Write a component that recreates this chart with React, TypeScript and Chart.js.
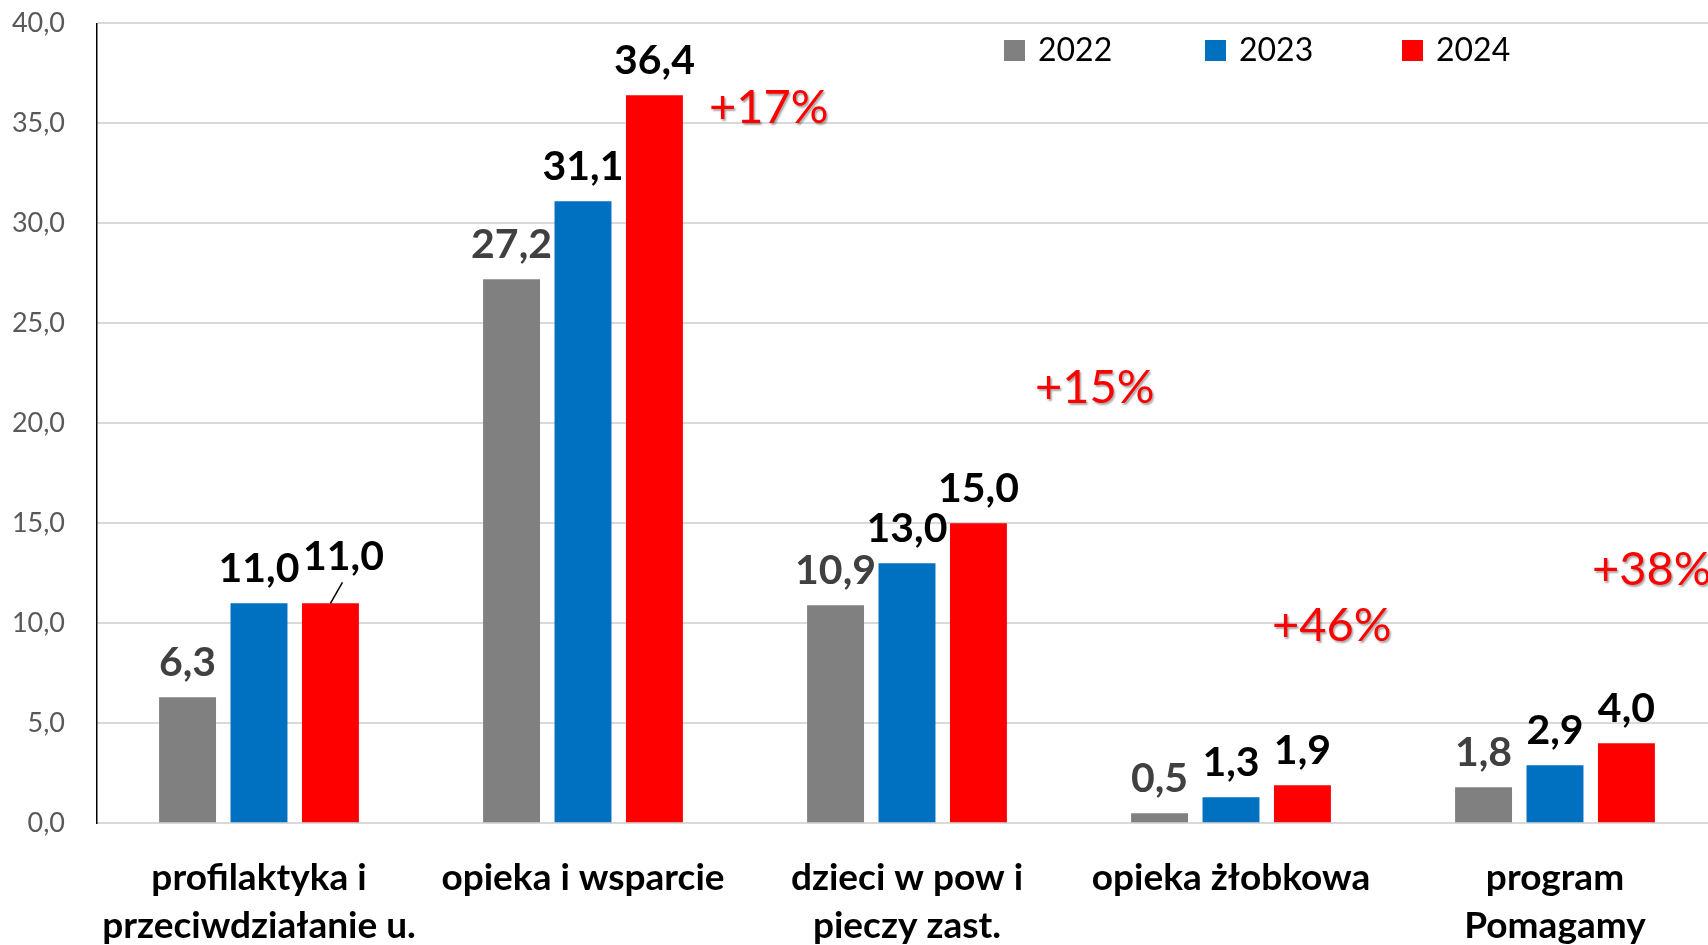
import React, { useEffect, useRef } from "react";
import { Chart, registerables } from "chart.js";

Chart.register(...registerables);

// ---- data ----
const categories: (string | string[])[] = [
  ["profilaktyka i", "przeciwdziałanie u."],
  "opieka i wsparcie",
  ["dzieci w pow i", "pieczy zast."],
  "opieka żłobkowa",
  ["program", "Pomagamy"],
];
const seriesNames = ["2022", "2023", "2024"];
const values2022 = [6.3, 27.2, 10.9, 0.5, 1.8];
const values2023 = [11.0, 31.1, 13.0, 1.3, 2.9];
const values2024 = [11.0, 36.4, 15.0, 1.9, 4.0];
const growthLabels = ["+17%", "+15%", "+46%", "+38%"];
const growthCategory = [1, 2, 3, 4];
const yMin = 0;
const yMax = 40;
const yStep = 5;

// ---- styles ----
const seriesColors = ["#808080", "#0070C0", "#FF0000"];
const labelColors = ["#404040", "#000000", "#000000"];
const FONT = "Lato, 'Open Sans', 'DejaVu Sans', sans-serif";
// growth label placement: [dx from category centre (px), value for baseline]
const growthPlacement: [number, number][] = [
  [126, 35.0],
  [128, 21.0],
  [41, 9.1],
  [37, 11.9],
];
const legendX = [1004, 1205, 1402];

const fmt = (v: number) => v.toFixed(1).replace(".", ",");

const dataLabelPlugin = {
  id: "dataLabelPlugin",
  afterDatasetsDraw(chart: any) {
    const ctx = chart.ctx;
    ctx.save();
    ctx.font = `bold 41px ${FONT}`;
    ctx.textAlign = "center";
    ctx.textBaseline = "alphabetic";
    chart.data.datasets.forEach((ds: any, di: number) => {
      const meta = chart.getDatasetMeta(di);
      meta.data.forEach((bar: any, i: number) => {
        const v = ds.data[i] as number;
        let x = bar.x;
        let y = bar.y - 21;
        ctx.fillStyle = labelColors[di];
        if (di === 2 && i === 0) {
          ctx.strokeStyle = "#000000";
          ctx.lineWidth = 1.5;
          ctx.beginPath();
          ctx.moveTo(bar.x, bar.y);
          ctx.lineTo(bar.x + 12, bar.y - 21);
          ctx.stroke();
          x = bar.x + 13;
          y = bar.y - 33;
        }
        ctx.fillText(fmt(v), x, y);
      });
    });
    ctx.restore();
  },
};

const growthPlugin = {
  id: "growthPlugin",
  afterDatasetsDraw(chart: any) {
    const ctx = chart.ctx;
    const xs = chart.scales.x;
    const ys = chart.scales.y;
    ctx.save();
    ctx.font = `47px ${FONT}`;
    ctx.textAlign = "left";
    ctx.textBaseline = "alphabetic";
    ctx.fillStyle = "#FF0000";
    ctx.shadowColor = "rgba(0,0,0,0.35)";
    ctx.shadowOffsetX = 1.5;
    ctx.shadowOffsetY = 1.5;
    ctx.shadowBlur = 2;
    growthLabels.forEach((t, k) => {
      const [dx, val] = growthPlacement[k];
      const x = xs.getPixelForValue(growthCategory[k]) + dx;
      const y = ys.getPixelForValue(val);
      ctx.fillText(t, x, y);
    });
    ctx.restore();
  },
};

const legendPlugin = {
  id: "legendPlugin",
  afterDraw(chart: any) {
    const ctx = chart.ctx;
    ctx.save();
    ctx.font = `32px ${FONT}`;
    ctx.textAlign = "left";
    ctx.textBaseline = "middle";
    chart.data.datasets.forEach((ds: any, di: number) => {
      const x = legendX[di];
      ctx.fillStyle = ds.backgroundColor;
      ctx.fillRect(x, 40, 21, 21);
      ctx.fillStyle = "#000000";
      ctx.fillText(ds.label, x + 34, 51);
    });
    ctx.restore();
  },
};

export default function App() {
  const ref = useRef<HTMLCanvasElement | null>(null);

  useEffect(() => {
    if (!ref.current) return;
    const chart = new Chart(ref.current, {
      type: "bar",
      data: {
        labels: categories as any,
        datasets: [values2022, values2023, values2024].map((d, i) => ({
          label: seriesNames[i],
          data: d,
          backgroundColor: seriesColors[i],
          borderWidth: 0,
          categoryPercentage: 0.6615,
          barPercentage: 0.797,
        })),
      },
      options: {
        responsive: false,
        animation: false,
        devicePixelRatio: 1,
        layout: { padding: { left: 0, right: 13, top: 23.3, bottom: 0 } },
        plugins: {
          legend: { display: false },
          tooltip: { enabled: false },
        },
        scales: {
          x: {
            grid: { display: false, drawTicks: false },
            border: { display: true, color: "#d9d9d9", width: 2 },
            ticks: {
              color: "#000000",
              font: { family: FONT, size: 37, weight: "bold", lineHeight: 1.3 },
              padding: 31,
              maxRotation: 0,
              autoSkip: false,
            },
            afterFit(scale: any) {
              scale.height = 121.7;
            },
          },
          y: {
            min: yMin,
            max: yMax,
            ticks: {
              stepSize: yStep,
              color: "#595959",
              font: { family: FONT, size: 27 },
              padding: 4,
              callback: (v: any) => fmt(Number(v)),
            },
            grid: {
              color: "#d9d9d9",
              lineWidth: 2,
              drawTicks: true,
              tickLength: 28,
              tickColor: "rgba(0,0,0,0)",
            },
            border: { display: true, color: "#000000", width: 1.5 },
            afterFit(scale: any) {
              scale.width = 97;
            },
          },
        },
      },
      plugins: [dataLabelPlugin, growthPlugin, legendPlugin],
    });
    return () => chart.destroy();
  }, []);

  return (
    <div
      style={{
        position: "fixed",
        left: 0,
        top: 0,
        width: 1708,
        height: 945,
        overflow: "hidden",
        background: "#ffffff",
      }}
    >
      <canvas ref={ref} width={1730} height={945} style={{ display: "block", width: 1730, height: 945 }} />
    </div>
  );
}
